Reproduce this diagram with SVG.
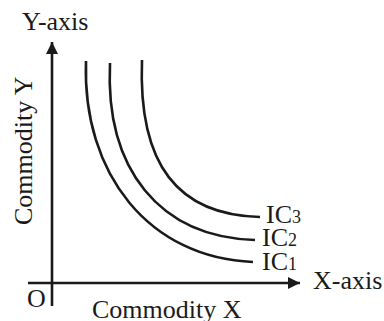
<svg xmlns="http://www.w3.org/2000/svg" width="384" height="321" viewBox="0 0 384 321">
<style>
.ln{fill:none;stroke:#1a1a1a;stroke-width:2.6}
.t{font-family:"Liberation Serif","Times New Roman",serif;font-size:26px;fill:#1a1a1a}
.s{font-size:18px}
</style>
<defs>
<marker id="ah" markerWidth="14" markerHeight="14" refX="12" refY="6" orient="auto" markerUnits="userSpaceOnUse">
<path d="M0,0 L12,6 L0,12 Z" fill="#1a1a1a"/>
</marker>
</defs>
<rect width="384" height="321" fill="#fff"/>
<g id="axes">
<line class="ln" x1="52" y1="306" x2="52" y2="42" marker-end="url(#ah)"/>
<line class="ln" x1="28" y1="283" x2="300" y2="283" marker-end="url(#ah)"/>
</g>
<g id="curves">
<path class="ln" d="M86,61 C82,175 150,258 253,262"/>
<path class="ln" d="M110,63 C105,170 160,237 255,240"/>
<path class="ln" d="M142,60 C138,165 178,215 260,217"/>
</g>
<g id="labels">
<text class="t" x="22" y="30">Y-axis</text>
<text class="t" x="313" y="289">X-axis</text>
<text class="t" x="27" y="307">O</text>
<text class="t" x="92" y="318">Commodity X</text>
<text class="t" transform="translate(32,225) rotate(-90)">Commodity Y</text>
<text class="t" x="266" y="223">IC<tspan class="s">3</tspan></text>
<text class="t" x="262" y="246">IC<tspan class="s">2</tspan></text>
<text class="t" x="262" y="270">IC<tspan class="s">1</tspan></text>
</g>
</svg>
